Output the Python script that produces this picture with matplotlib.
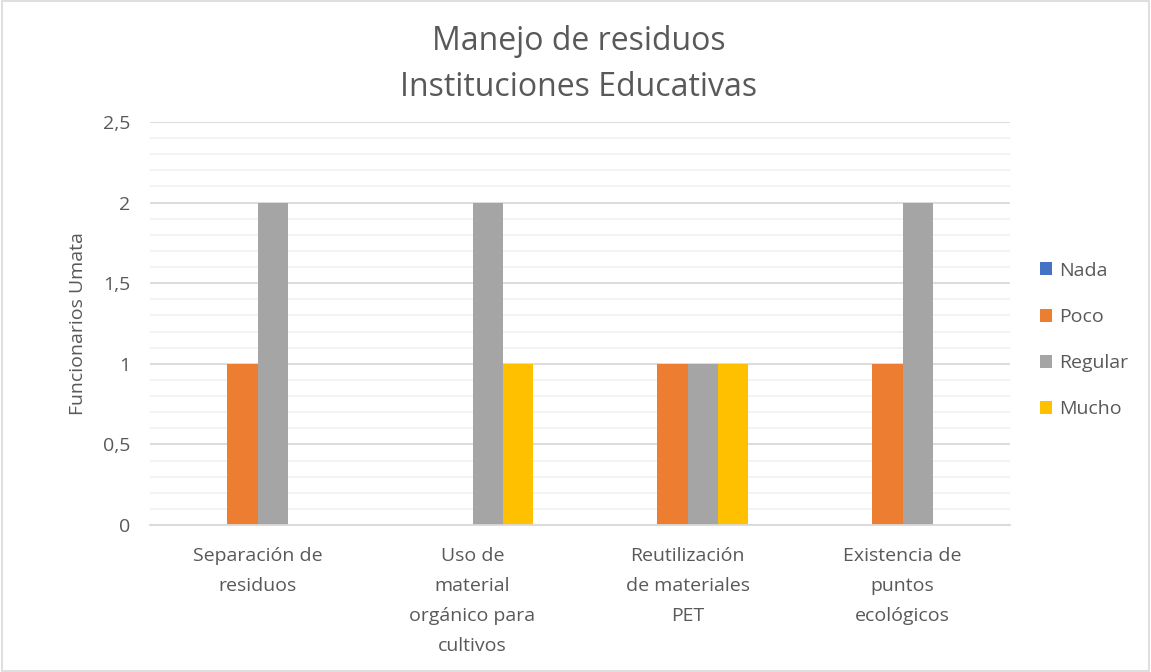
import numpy as np
import matplotlib.pyplot as plt
from matplotlib.patches import Rectangle
from matplotlib.ticker import MultipleLocator, FuncFormatter

categories = ["Separación de\nresiduos", "Uso de\nmaterial\norgánico para\ncultivos",
              "Reutilización\nde materiales\nPET", "Existencia de\npuntos\necológicos"]
series = ["Nada", "Poco", "Regular", "Mucho"]
nada = [0, 0, 0, 0]
poco = [1, 0, 1, 1]
regular = [2, 2, 1, 2]
mucho = [0, 1, 1, 0]
colors = ["#4472C4", "#ED7D31", "#A5A5A5", "#FFC000"]

plt.rcParams['font.family'] = ['Open Sans', 'DejaVu Sans']
text_col = "#595959"
fs = 14

fig = plt.figure(figsize=(11.51, 6.72), dpi=100)
ax = fig.add_axes([150/1151, 1 - 525/672, 860/1151, 403/672])

x = np.arange(len(categories))
w = 0.14
for i, (name, vals) in enumerate(zip(series, [nada, poco, regular, mucho])):
    ax.bar(x + (i - 1.5) * w, vals, width=w, color=colors[i], label=name, zorder=3)

ax.set_xlim(-0.5, len(categories) - 0.5)
ax.set_ylim(0, 2.5)
ax.yaxis.set_major_locator(MultipleLocator(0.5))
ax.yaxis.set_minor_locator(MultipleLocator(0.1))
ax.yaxis.set_major_formatter(FuncFormatter(lambda v, p: f"{v:g}".replace(".", ",")))
ax.grid(axis="y", which="major", color="#d9d9d9", linewidth=1.3, zorder=0)
ax.grid(axis="y", which="minor", color="#f0f0f0", linewidth=1.1, zorder=0)
for s in ["top", "right", "left"]:
    ax.spines[s].set_visible(False)
ax.spines["bottom"].set_color("#d9d9d9")
ax.spines["bottom"].set_linewidth(1.3)
ax.spines["bottom"].set_zorder(4)
ax.tick_params(axis="both", which="both", length=0, labelsize=fs, labelcolor=text_col)
ax.tick_params(axis="y", pad=14)
ax.tick_params(axis="x", pad=16)
ax.set_xticks(x)
ax.set_xticklabels(categories, linespacing=1.85)
ax.set_ylabel("Funcionarios Umata", fontsize=fs, color=text_col, labelpad=12)

fig.text(0.5025, 1 - 42/672, "Manejo de residuos", ha="center", va="center",
         fontsize=23, color=text_col)
fig.text(0.5025, 1 - 87/672, "Instituciones Educativas", ha="center", va="center",
         fontsize=23, color=text_col)

leg = fig.legend(loc="center left", bbox_to_anchor=(1022/1151, 1 - 340/672), frameon=False,
                 fontsize=fs, handlelength=0.65, handleheight=0.65, handletextpad=0.35,
                 labelspacing=1.45, labelcolor=text_col)

fig.patches.append(Rectangle((0.002, 0.002), 0.996, 0.996, transform=fig.transFigure,
                             fill=False, edgecolor="#d9d9d9", linewidth=1.2))

fig.savefig("out.png", dpi=100)
